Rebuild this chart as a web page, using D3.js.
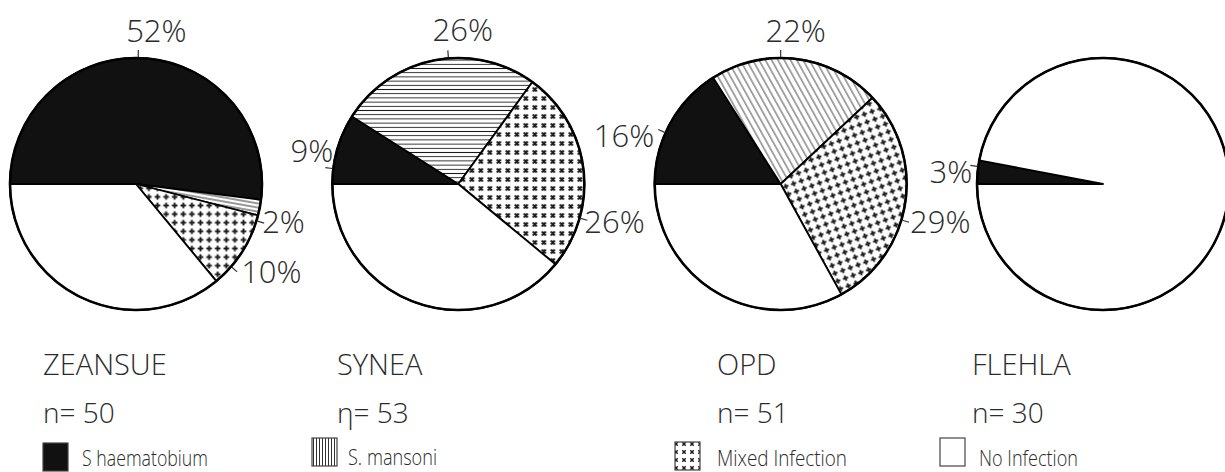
<!DOCTYPE html>
<html>
<head>
<meta charset="utf-8">
<script src="https://cdn.jsdelivr.net/npm/d3@7"></script>
<style>
  body { margin: 0; background: #fff; }
  svg text { font-family: "Open Sans", "DejaVu Sans", sans-serif; font-weight: 300; fill: #2b2b2b; }
</style>
</head>
<body>
<div id="chart"></div>
<script>
// du lieu doc tu hinh
const sites = ["ZEANSUE", "SYNEA", "OPD", "FLEHLA"];
const sampleN = [50, 53, 51, 30];
const nPrefix = ["n", "η", "n", "n"];
const categories = ["S haematobium", "S. mansoni", "Mixed Infection", "No Infection"];
const haematobium = [52, 9, 16, 3];
const mansoni = [2, 26, 22, 0];
const mixedInf = [10, 26, 29, 0];
const noInfection = [36, 39, 33, 97];

const width = 1225, height = 472;
const r = 126, cy = 184;

// vi tri nhan phan tram: [goc do, dx, dy] cho tung lat
const labelLayout = [
    { 0: [1, 18, -8], 1: [107, -2, 10], 2: [131, 4, 11] },
    { 0: [-83, 8, -6], 1: [-4.5, 15, -9], 2: [105.7, -3, 13] },
    { 0: [-66, -4, 17], 1: [0, 15, -8], 2: [106.6, 1, 11] },
    { 0: [-82, 2, 18] }
];

// mau / hoa van cho tung lat, theo tung bieu do
const fills = [
    ["#111", "url(#sliver)", "url(#plus)", "#fff"],
    ["#111", "url(#hatchH)", "url(#cross)", "#fff"],
    ["#111", "url(#hatchD)", "url(#plusR)", "#fff"],
    ["#111", "#fff", "#fff", "#fff"]
];
const legendFills = ["#111", "url(#hatchV)", "url(#crossL)", "#fff"];

const titleX = [43, 337, 717, 972];
const legendX = [43, 312, 675, 940];
const legendY = [443, 438, 442, 438];
const legendTextDx = [39, 36, 42, 39];
const legendBase = [466, 465, 466, 466];
const legendLen = [126, 89, 130, 99];

const svg = d3.select("#chart").append("svg")
    .attr("width", width)
    .attr("height", height);

svg.append("rect").attr("width", width).attr("height", height).attr("fill", "#fff");

// hoa van
const defs = svg.append("defs");

function linePattern(id, w, h, lines, transform, sw) {
    const p = defs.append("pattern")
        .attr("id", id)
        .attr("patternUnits", "userSpaceOnUse")
        .attr("width", w)
        .attr("height", h);
    if (transform) p.attr("patternTransform", transform);
    p.append("rect").attr("width", w).attr("height", h).attr("fill", "#fff");
    lines.forEach(l => {
        p.append("line")
            .attr("x1", l[0]).attr("y1", l[1]).attr("x2", l[2]).attr("y2", l[3])
            .attr("stroke", "#1a1a1a")
            .attr("stroke-width", sw);
    });
}

linePattern("hatchH", 8, 4.2, [[0, 2.1, 8, 2.1]], null, 0.9);
linePattern("hatchD", 5.5, 8, [[2.7, 0, 2.7, 8]], "rotate(-29)", 0.8);
linePattern("sliver", 8, 4, [[0, 2, 8, 2]], "rotate(10)", 0.9);
linePattern("hatchV", 3, 8, [[1.5, 0, 1.5, 8]], null, 0.9);
linePattern("plus", 8.6, 8.6, [[1.5, 4.3, 7.1, 4.3], [4.3, 1.5, 4.3, 7.1]], null, 1.9);
linePattern("plusR", 8.2, 8.2, [[1.4, 4.1, 6.8, 4.1], [4.1, 1.4, 4.1, 6.8]], "rotate(-20)", 1.9);
linePattern("cross", 9, 9, [[2.5, 2.5, 6.5, 6.5], [6.5, 2.5, 2.5, 6.5]], null, 1.9);
linePattern("crossL", 8, 8, [[2.3, 2.3, 5.7, 5.7], [5.7, 2.3, 2.3, 5.7]], null, 1.4);

// thang do vi tri cac bieu do
const x = d3.scalePoint().domain(sites).range([136, 1103]);

const pie = d3.pie()
    .sort(null)
    .value(d => d.value)
    .startAngle(-Math.PI / 2)
    .endAngle(1.5 * Math.PI);

const arc = d3.arc().innerRadius(0).outerRadius(r);

sites.forEach((site, i) => {
    const values = [haematobium[i], mansoni[i], mixedInf[i], noInfection[i]];
    const slices = pie(values.map((v, k) => ({ value: v, k: k })));

    const g = svg.append("g")
        .attr("transform", `translate(${x(site)},${cy})`);

    g.selectAll(".slice")
        .data(slices.filter(s => s.data.value > 0))
        .enter()
        .append("path")
        .attr("class", "slice")
        .attr("d", arc)
        .attr("fill", d => fills[i][d.data.k])
        .attr("stroke", "#000")
        .attr("stroke-width", 1.8)
        .attr("stroke-linejoin", "round");

    g.append("circle")
        .attr("r", r)
        .attr("fill", "none")
        .attr("stroke", "#000")
        .attr("stroke-width", 2.6);

    // nhan phan tram va vach dan
    slices.forEach(s => {
        const lay = labelLayout[i][s.data.k];
        if (!lay || s.data.value <= 0) return;
        const a = lay[0] * Math.PI / 180;
        const sx = Math.sin(a), cyv = -Math.cos(a);
        const x2 = sx * (r + 8), y2 = cyv * (r + 8);
        g.append("line")
            .attr("x1", sx * (r + 1)).attr("y1", cyv * (r + 1))
            .attr("x2", x2).attr("y2", y2)
            .attr("stroke", "#333")
            .attr("stroke-width", 1.2);
        const anchor = Math.abs(sx) < 0.5 ? "middle" : (sx > 0 ? "start" : "end");
        g.append("text")
            .attr("x", x2 + lay[1])
            .attr("y", y2 + lay[2])
            .attr("text-anchor", anchor)
            .style("font-size", "31px")
            .text(`${s.data.value}%`);
    });

    // ten dia diem va n
    svg.append("text")
        .attr("x", titleX[i])
        .attr("y", 375)
        .style("font-size", "29px")
        .text(site);

    svg.append("text")
        .attr("x", titleX[i])
        .attr("y", 423)
        .style("font-size", "28px")
        .text(`${nPrefix[i]}= ${sampleN[i]}`);
});

// chu giai
categories.forEach((c, k) => {
    svg.append("rect")
        .attr("x", legendX[k])
        .attr("y", legendY[k])
        .attr("width", 25)
        .attr("height", 28)
        .attr("fill", legendFills[k])
        .attr("stroke", "#444")
        .attr("stroke-width", 1.2);

    svg.append("text")
        .attr("x", legendX[k] + legendTextDx[k])
        .attr("y", legendBase[k])
        .attr("textLength", legendLen[k])
        .attr("lengthAdjust", "spacingAndGlyphs")
        .style("font-size", "22px")
        .text(c);
});
</script>
</body>
</html>
